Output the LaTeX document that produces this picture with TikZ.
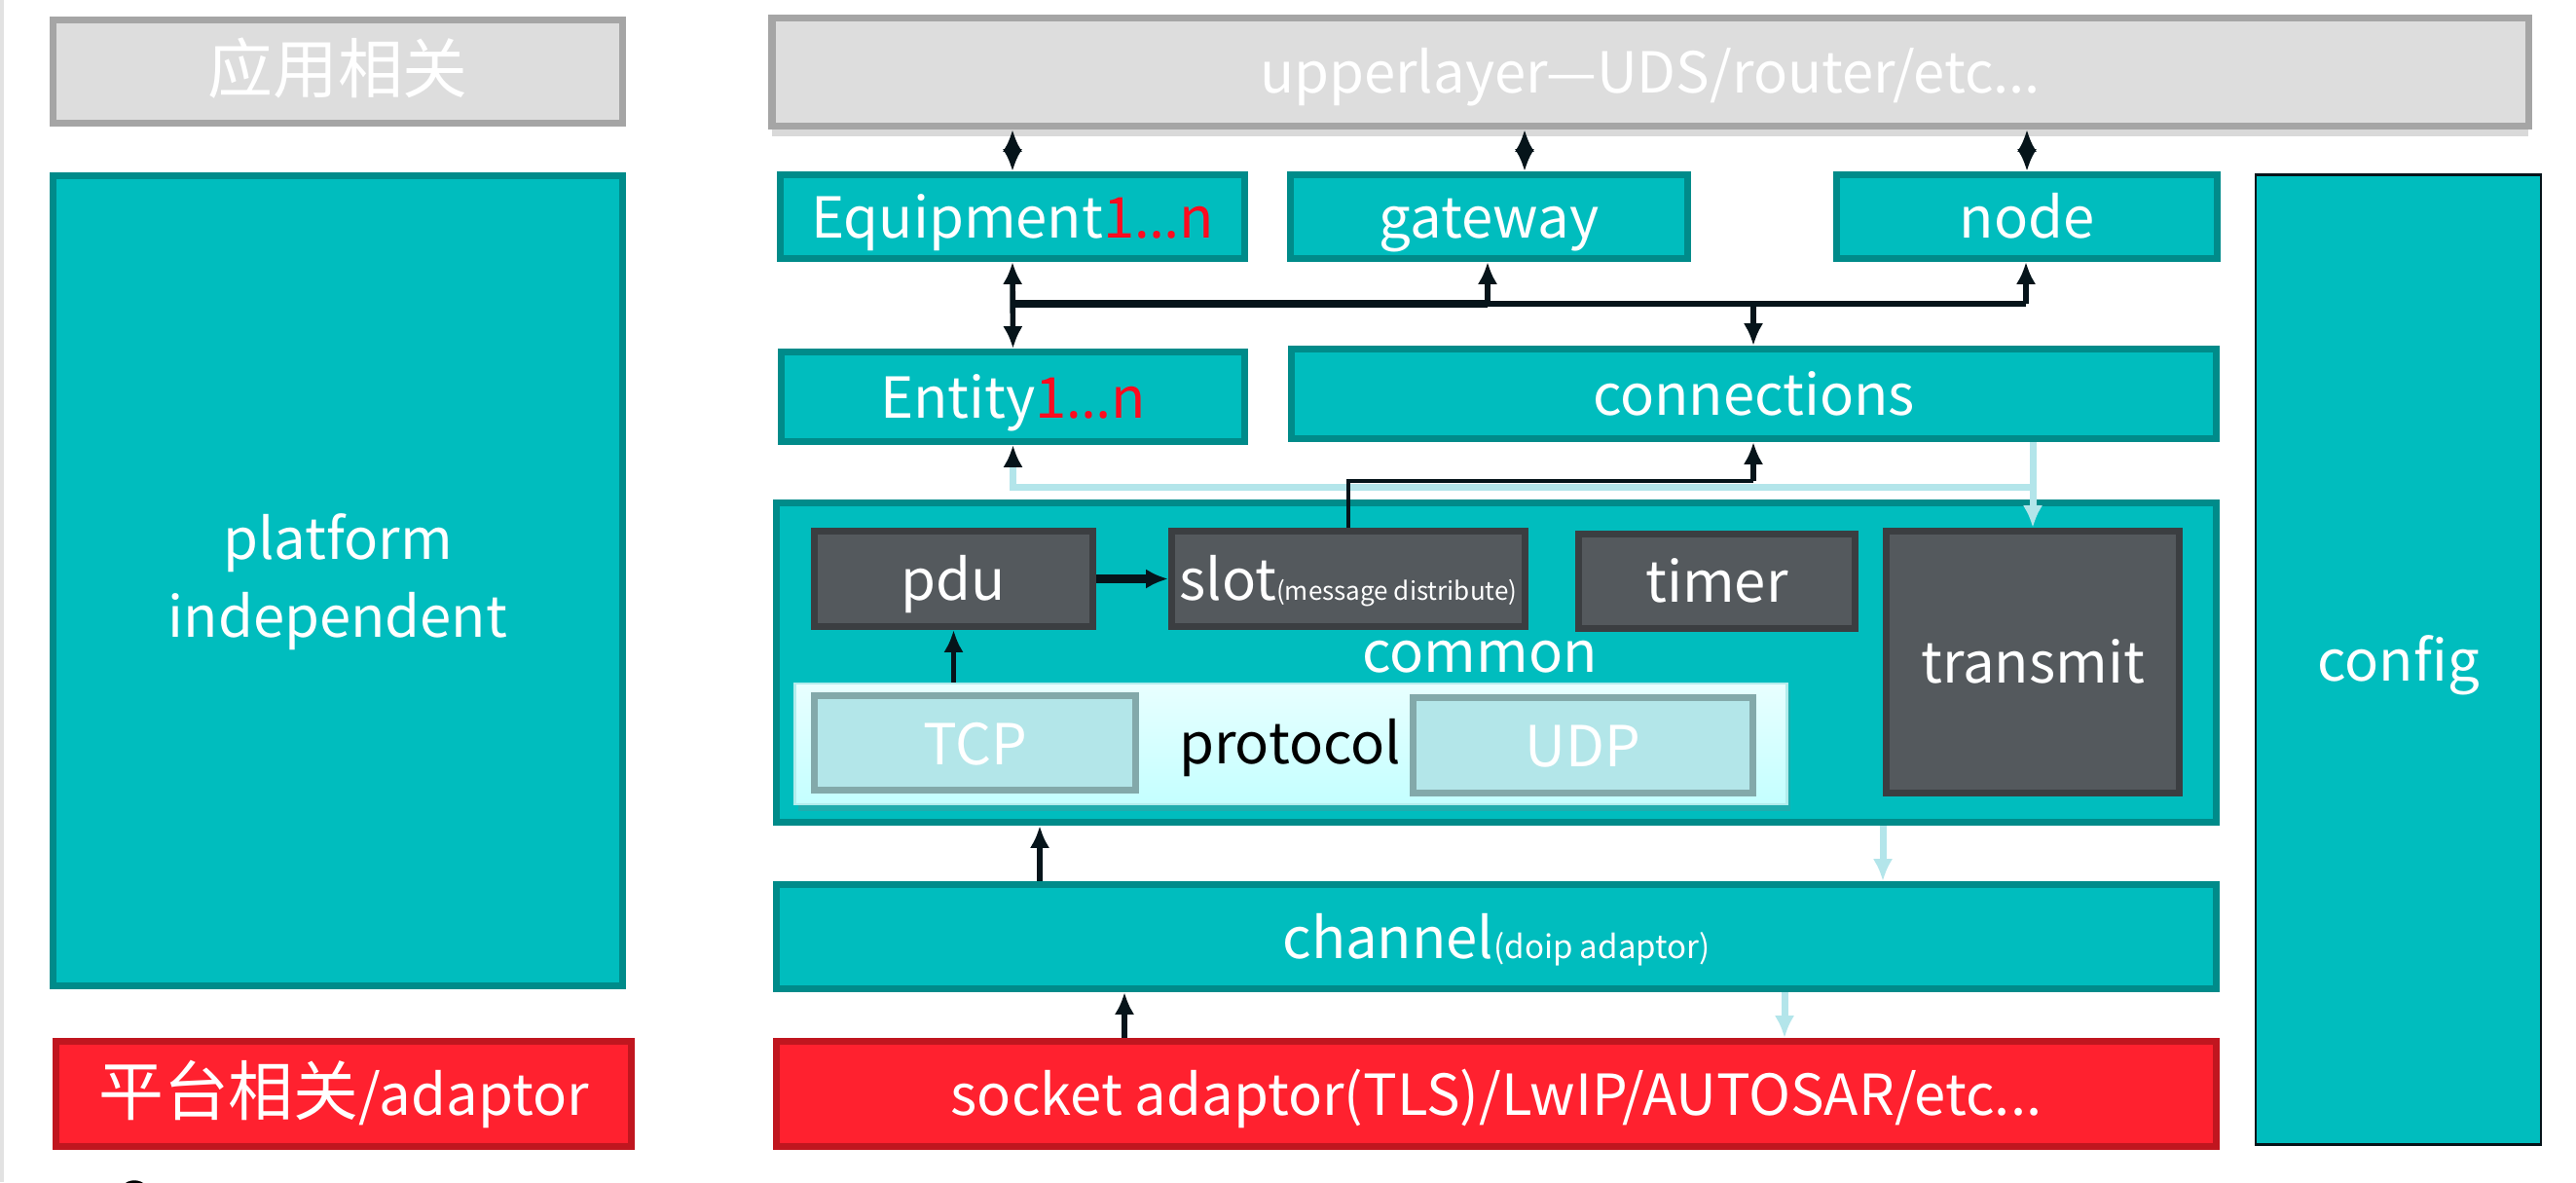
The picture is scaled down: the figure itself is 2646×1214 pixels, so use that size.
\documentclass[tikz,border=0pt]{standalone}
\usepackage{fontspec}
\setmainfont{Noto Sans CJK SC}
\newfontfamily\latinfont{Noto Sans}
\usetikzlibrary{arrows.meta,shadows}
\definecolor{tealF}{HTML}{00BDBE}
\definecolor{tealD}{HTML}{008B8A}
\definecolor{grayF}{HTML}{DDDDDD}
\definecolor{grayD}{HTML}{A5A5A5}
\definecolor{redF}{HTML}{FF212F}
\definecolor{redD}{HTML}{C0161F}
\definecolor{darkF}{HTML}{54595D}
\definecolor{darkD}{HTML}{3B3E41}
\definecolor{lbF}{HTML}{B3E6E9}
\definecolor{lbD}{HTML}{83A9AA}
\definecolor{protoT}{HTML}{E8FFFF}
\definecolor{protoB}{HTML}{C4FFFF}
\definecolor{protoD}{HTML}{B2ECEC}
\definecolor{lineD}{HTML}{06141A}
\definecolor{lineL}{HTML}{B3E5EA}
\definecolor{redT}{HTML}{FF0A1E}
\definecolor{edgeG}{HTML}{E2E2E2}
\newcommand{\redn}{\textcolor{redT}{1{\latinfont …}n}}
\newcommand{\cjksz}{\fontsize{19pt}{22pt}\selectfont}
\begin{document}
\begin{tikzpicture}[x=0.01cm, y=-0.01cm,
  >={Latex[length=6.5pt,width=5.8pt]},
  box/.style={rectangle, line width=2pt, inner sep=0pt, text=white,
    font=\fontsize{16.5pt}{20pt}\selectfont, text height=12.5pt, text depth=0pt},
  lbl/.style={inner sep=0pt, text=white, font=\fontsize{16.5pt}{20pt}\selectfont,
    text height=12.5pt, text depth=0pt},
  tealbox/.style={box, draw=tealD, fill=tealF},
  graybox/.style={box, draw=grayD, fill=grayF},
  redbox/.style={box, draw=redD, fill=redF},
  darkbox/.style={box, draw=darkD, fill=darkF},
  lightbox/.style={box, draw=lbD, fill=lbF},
  sz/.style 2 args={minimum width=#1cm, minimum height=#2cm},
  dline/.style={draw=lineD, line width=1.6pt},
  lline/.style={draw=lineL, line width=2pt}
]
\useasboundingbox (0,0) rectangle (2646,1214);
\fill[edgeG] (0,0) rectangle (4,1214);

% left column
\node[graybox, sz={5.85}{1.06}] (app) at (347,73.5) {\cjksz 应用相关};
\node[tealbox, sz={5.85}{8.32}] (plat) at (347,596.5) {};
\node[lbl] (platA) at (347,553) {platform};
\node[lbl] (platB) at (347,633) {independent};
\node[redbox, sz={5.91}{1.08}] (adapt) at (353,1123.5) {{\cjksz 平台相关}/adaptor};

% upper layer
\node[graybox, sz={18.03}{1.11}, drop shadow={opacity=0.3, shadow xshift=0pt, shadow yshift=-3pt}] (upper) at (1695,74) {upperlayer—UDS/router/etc...};

\node[tealbox, sz={4.77}{0.86}] (equip) at (1040,222.5) {Equipment\redn};
\node[tealbox, sz={4.08}{0.86}] (gate) at (1529.5,222.5) {gateway};
\node[tealbox, sz={3.91}{0.86}] (nodeb) at (2082,222.5) {node};

\node[tealbox, sz={4.76}{0.92}] (entity) at (1040.5,407.5) {Entity\redn};
\node[tealbox, sz={9.50}{0.92}] (conn) at (1801.5,404.5) {connections};

% common
\node[tealbox, sz={14.79}{3.28}] (common) at (1537,680.5) {};
\node[lbl] (commonlbl) at (1520,668) {common};
\node[draw=protoD, line width=0.8pt, top color=protoT, bottom color=protoB,
  minimum width=10.18cm, minimum height=1.24cm, inner sep=0pt,
  drop shadow={opacity=0.25, shadow xshift=1pt, shadow yshift=-2pt}] (proto) at (1326,764) {};
\node[lightbox, sz={3.30}{0.97}] (tcp) at (1001.5,763) {TCP};
\node[lightbox, sz={3.49}{0.98}] (udp) at (1626,765.5) {UDP};
\node[lbl, text=black] (protolbl) at (1325,762) {protocol};
\node[darkbox, sz={2.86}{0.98}] (pdu) at (979.5,594.5) {pdu};
\node[darkbox, sz={3.63}{0.98}] (slot) at (1385,594.5) {slot{\fontsize{7.4pt}{9pt}\selectfont(message distribute)}};
\node[darkbox, sz={2.84}{0.97}] (timer) at (1763.5,597) {timer};
\node[darkbox, sz={3.01}{2.69}] (transmit) at (2088,680) {transmit};

\node[tealbox, sz={14.79}{1.07}] (channel) at (1537,962) {channel{\fontsize{9.4pt}{11pt}\selectfont(doip adaptor)}};
\node[redbox, sz={14.79}{1.08}] (socket) at (1537,1123.5) {socket adaptor(TLS)/LwIP/AUTOSAR/etc...};

\node[box, draw=lineD, fill=tealF, line width=0.7pt, sz={2.93}{9.95}] (config) at (2463.5,677.5) {config};

% helper coordinates
\coordinate (xE) at (1041,312);
\coordinate (xG) at (1528,312);
\coordinate (xN) at (2081,312);
\coordinate (xC) at (1801,312);
\coordinate (uG) at (1566,0);
\coordinate (lj) at (2088,500);
\coordinate (sj) at (1801,494);
\coordinate (a1) at (1068,0);
\coordinate (a2) at (1934,0);
\coordinate (a3) at (1155,0);
\coordinate (a4) at (1833,0);

% top double arrows
\draw[dline,<->] (upper.south -| equip.north) -- (equip.north);
\draw[dline,<->] (upper.south -| uG) -- (gate.north -| uG);
\draw[dline,<->] (upper.south -| nodeb.north) -- (nodeb.north);

% bus
\draw[dline,<->] (equip.south) -- (entity.north);
\draw[dline,line width=2.2pt] (equip.south |- xE) -- (xG);
\draw[dline] (xG) -- (xN);
\draw[dline,->] (xG) -- (gate.south -| xG);
\draw[dline,->] (xN) -- (nodeb.south -| xN);
\draw[dline,->] (xC) -- (conn.north -| xC);

% light connector connections/transmit/entity
\draw[lline,->] (conn.south -| lj) -- (transmit.north -| lj);
\draw[lline,-{Latex[length=6.5pt,width=5.8pt,color=lineD]}] (lj) -| (entity.south);

% slot to connections
\draw[dline,line width=1.2pt] (slot.north) |- (sj);
\draw[dline,->] (sj) -- (conn.south -| sj);

% inside common
\draw[dline,line width=2.4pt,->] (pdu.east) -- (slot.west);
\draw[dline,->] (proto.north -| pdu.south) -- (pdu.south);

% lower arrows
\draw[dline,->] (channel.north -| a1) -- (common.south -| a1);
\draw[lline,->] (common.south -| a2) -- (channel.north -| a2);
\draw[dline,->] (socket.north -| a3) -- (channel.south -| a3);
\draw[lline,->] (channel.south -| a4) -- (socket.north -| a4);

% cut-off mark at the bottom edge
\begin{scope}
\clip (0,0) rectangle (2646,1214);
\draw[line width=1pt, black] (138,1229) circle [radius=0.15cm];
\end{scope}
\end{tikzpicture}
\end{document}
